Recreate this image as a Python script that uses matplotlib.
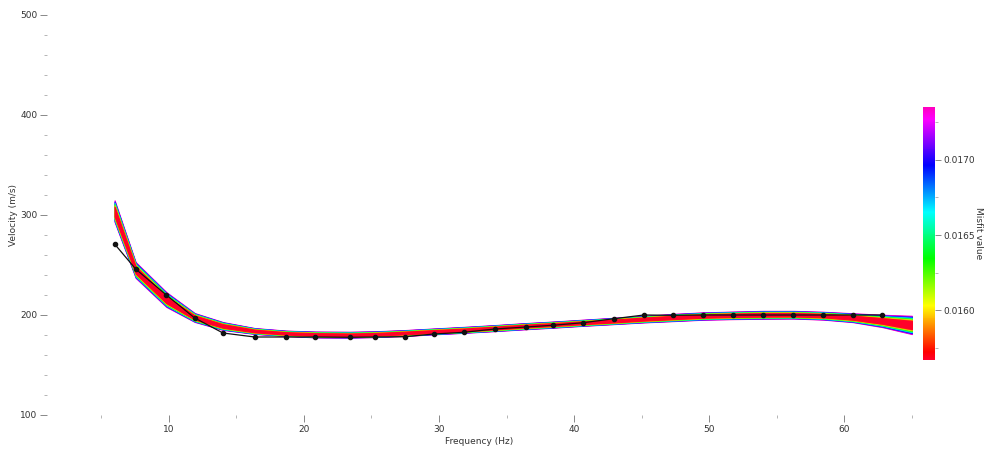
import numpy as np
import matplotlib
matplotlib.use("Agg")
import matplotlib.pyplot as plt
from matplotlib.ticker import MultipleLocator, FixedLocator
from matplotlib.colors import Normalize

# Observed dispersion points (frequency in Hz, phase velocity in m/s)
obs_freq = [6.0, 7.56, 9.83, 11.93, 14.02, 16.37, 18.66, 20.86, 23.4, 25.25,
            27.47, 29.64, 31.84, 34.14, 36.43, 38.41, 40.68, 42.95, 45.17,
            47.34, 49.56, 51.78, 54.0, 56.22, 58.45, 60.62, 62.81]
obs_vel = [271, 246, 220, 197, 182, 178, 178, 178, 177.7, 178,
           178.3, 181, 182.7, 186, 188, 189.7, 192.3, 196.3, 200,
           199.7, 200, 200, 200, 200, 200, 200, 200]

# Theoretical curves of the inverted models: best model and spread envelope
model_freq = [6.0, 7.56, 9.83, 11.93, 14.02, 16.37, 18.66, 20.86, 23.4, 25.25,
              27.47, 29.64, 31.84, 34.14, 36.43, 38.41, 40.68, 42.95, 45.17,
              47.34, 49.56, 51.78, 54.0, 56.22, 58.45, 60.62, 62.81, 65.0]
model_best = [303, 245, 215, 197.5, 189, 184, 181.5, 180.5, 180, 180.5,
              182, 183.5, 185, 187, 189, 190.5, 192.3, 194, 196,
              197.5, 199, 199.8, 200.2, 200.3, 199.5, 197.3, 194, 190]
model_upper = [315, 253, 223, 202, 193, 187, 184.5, 183.5, 183.3, 183.8,
               185, 186.6, 188.2, 190, 192, 193.5, 195.4, 197.3, 199.2,
               201.2, 202.7, 203.5, 204.2, 204.2, 203.3, 201.8, 200.3, 199.3]
model_lower = [293, 237, 208, 193, 185, 181, 179, 177.5, 177.3, 177.8,
               179, 180.6, 182.1, 183.8, 185.7, 187.2, 189.1, 190.8, 192.5,
               193.8, 195.2, 195.8, 196.2, 196.4, 195.3, 192.8, 187.8, 180.8]

# Misfit range of the model population
misfit_min = 0.01567
misfit_max = 0.01735
n_models = 9

cbar_ticks = [0.0160, 0.0165, 0.0170]
cbar_minor = [0.01575, 0.01625, 0.01675, 0.01725]
x_major = [10, 20, 30, 40, 50, 60]
y_major = [100, 200, 300, 400, 500]

fig = plt.figure(figsize=(9.86, 4.51), dpi=100)
ax = fig.add_axes([47 / 986, 36 / 451, (912 - 47) / 986, 400 / 451])

cmap = plt.get_cmap("gist_rainbow")
norm = Normalize(vmin=misfit_min, vmax=misfit_max)

f = np.array(model_freq)
best = np.array(model_best)
up = np.array(model_upper)
lo = np.array(model_lower)

# Worst models first so the best ones sit on top in the middle
misfits = np.linspace(misfit_max, misfit_min, n_models)
for m in misfits:
    t = (m - misfit_min) / (misfit_max - misfit_min)
    frac = 0.45 + 0.55 * t
    c = cmap(norm(m))
    ax.fill_between(f, best - frac * (best - lo), best + frac * (up - best),
                    facecolor=c, edgecolor=c, linewidth=0.7,
                    joinstyle="miter")

ax.plot(obs_freq, obs_vel, color="#111111", linewidth=0.9,
        marker="o", markersize=3.0, zorder=5)

ax.set_xlim(1, 65)
ax.set_ylim(100, 500)
for s in ax.spines.values():
    s.set_visible(False)

ax.set_xticks(x_major)
ax.xaxis.set_minor_locator(MultipleLocator(5))
ax.set_yticks(y_major)
ax.yaxis.set_minor_locator(MultipleLocator(20))
ax.tick_params(which="major", length=5, width=0.7, color="#888888",
               labelsize=6.5, labelcolor="#333333", pad=2)
ax.tick_params(which="minor", length=2.5, width=0.6, color="#aaaaaa")

ax.set_xlabel("Frequency (Hz)", fontsize=6.5, color="#333333", labelpad=2)
ax.set_ylabel("Velocity (m/s)", fontsize=6.5, color="#333333")
ax.yaxis.set_label_coords(-0.033, 0.5)

# Colour bar for misfit
cax = fig.add_axes([923 / 986, 91 / 451, 12 / 986, 253 / 451])
sm = plt.cm.ScalarMappable(norm=norm, cmap=cmap)
cb = fig.colorbar(sm, cax=cax)
cb.outline.set_visible(False)
cb.set_ticks(cbar_ticks)
cb.ax.set_yticklabels([f"{t:.4f}" for t in cbar_ticks])
cb.ax.yaxis.set_minor_locator(FixedLocator(cbar_minor))
cb.ax.tick_params(which="major", length=4, width=0.7, color="#888888",
                  labelsize=6.5, labelcolor="#333333", pad=2)
cb.ax.tick_params(which="minor", length=2.5, width=0.6, color="#aaaaaa")
cb.set_label("Misfit value", rotation=270, fontsize=6.5, color="#333333",
             labelpad=6)

fig.savefig("out.png", dpi=100)
